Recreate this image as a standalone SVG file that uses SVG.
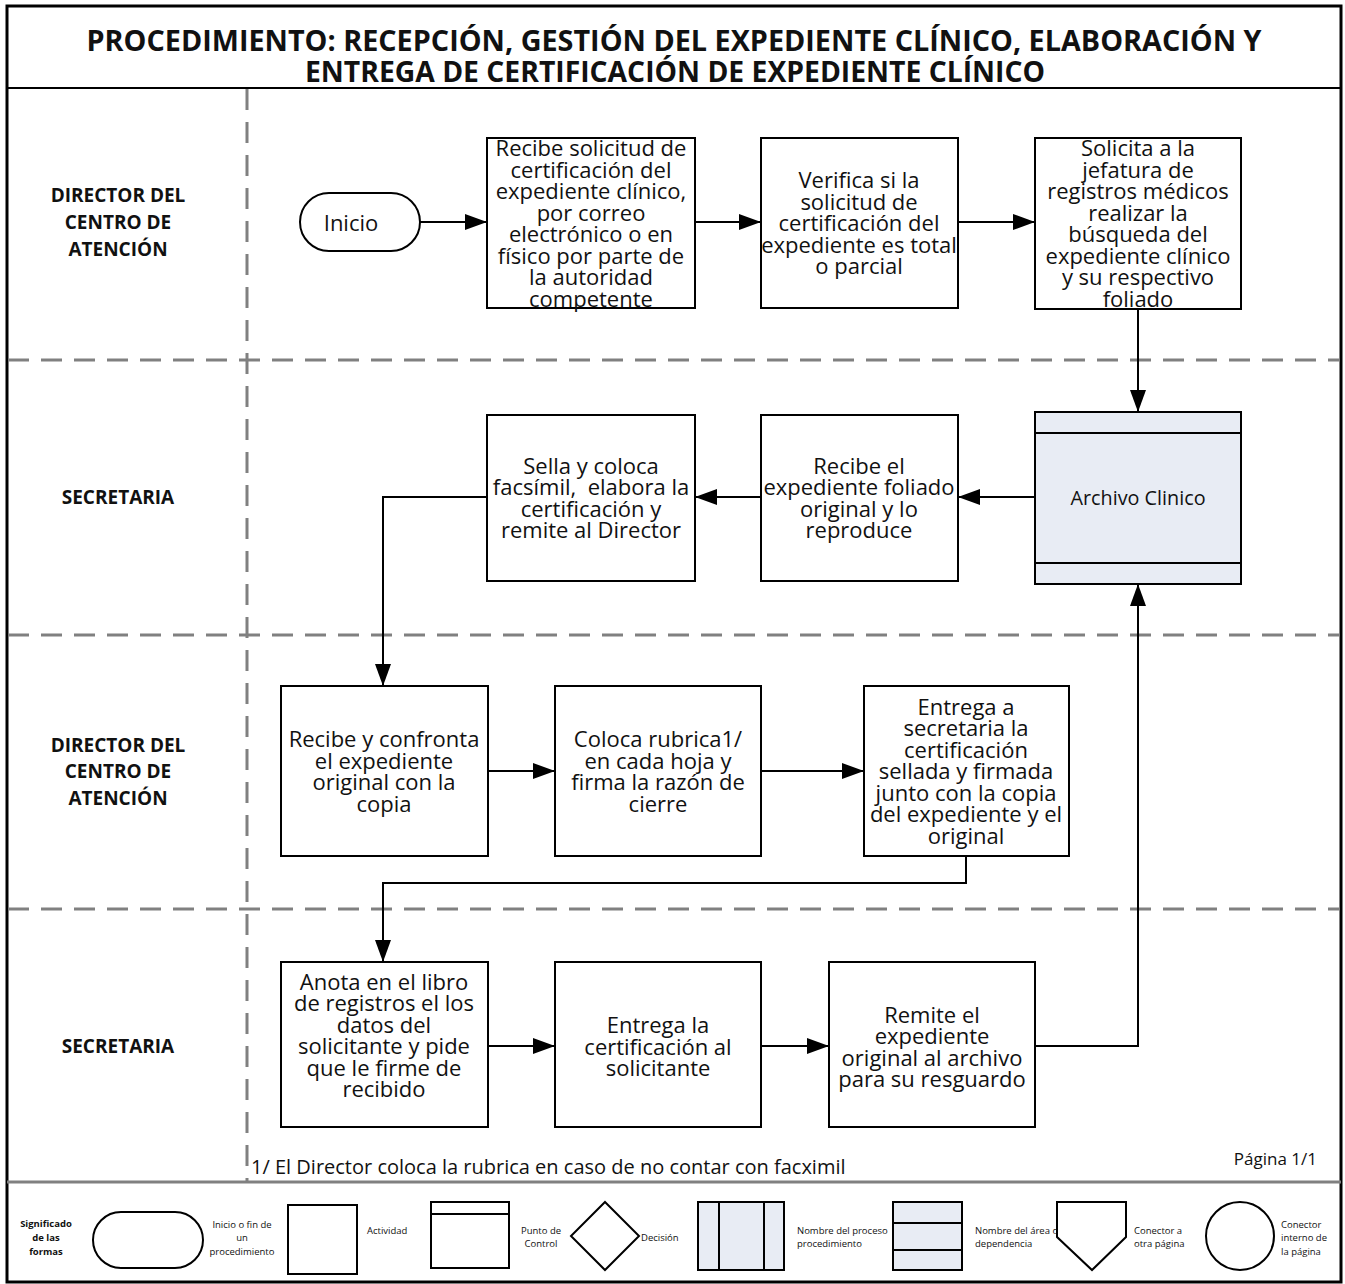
<svg xmlns="http://www.w3.org/2000/svg" width="1345" height="1284" viewBox="0 0 1345 1284">
<defs>
<style>
.t{font-family:"Open Sans","Noto Sans","Liberation Sans",sans-serif;font-size:22px;fill:#111;text-anchor:middle;dominant-baseline:central}
.lane{font-family:"Open Sans","Noto Sans","Liberation Sans",sans-serif;font-size:19px;font-weight:bold;fill:#111;text-anchor:middle;dominant-baseline:central}
.title{font-family:"Open Sans","Noto Sans","Liberation Sans",sans-serif;font-size:28px;font-weight:bold;fill:#111;text-anchor:middle}
.lg{font-family:"Open Sans","Noto Sans","Liberation Sans",sans-serif;font-size:9.5px;fill:#111;dominant-baseline:central}
.box{fill:#fff;stroke:#000;stroke-width:2}
.blue{fill:#e8ecf4;stroke:#000;stroke-width:2}
.dash{stroke:#808080;stroke-width:3;stroke-dasharray:21 12;fill:none}
.con{fill:none;stroke:#000;stroke-width:2;marker-end:url(#ah)}
.lgs{fill:#fff;stroke:#000;stroke-width:2}
</style>
<marker id="ah" viewBox="0 0 22 16" refX="22" refY="8" markerWidth="22" markerHeight="16" markerUnits="userSpaceOnUse" orient="auto">
<path d="M0,0 L22,8 L0,16 z" fill="#000"/>
</marker>
</defs>
<rect x="0" y="0" width="1345" height="1284" fill="#fff"/>

<g id="frame">
<rect x="7" y="6" width="1334" height="1276" fill="none" stroke="#000" stroke-width="3"/>
<line x1="7" y1="88" x2="1341" y2="88" stroke="#000" stroke-width="2"/>
<line x1="7" y1="1182" x2="1341" y2="1182" stroke="#808080" stroke-width="3"/>
<line x1="247" y1="89" x2="247" y2="1181" class="dash"/>
<line x1="8" y1="360" x2="1340" y2="360" class="dash"/>
<line x1="8" y1="635" x2="1340" y2="635" class="dash"/>
<line x1="8" y1="909" x2="1340" y2="909" class="dash"/>
<text class="title" x="674" y="51" textLength="1175" lengthAdjust="spacingAndGlyphs">PROCEDIMIENTO: RECEPCIÓN, GESTIÓN DEL EXPEDIENTE CLÍNICO, ELABORACIÓN Y</text>
<text class="title" x="675" y="82" textLength="740" lengthAdjust="spacingAndGlyphs">ENTREGA DE CERTIFICACIÓN DE EXPEDIENTE CLÍNICO</text>
</g>

<g id="lanes">
<text class="lane" x="118" y="195">DIRECTOR DEL</text>
<text class="lane" x="118" y="222">CENTRO DE</text>
<text class="lane" x="118" y="249">ATENCIÓN</text>
<text class="lane" x="118" y="497">SECRETARIA</text>
<text class="lane" x="118" y="745">DIRECTOR DEL</text>
<text class="lane" x="118" y="771">CENTRO DE</text>
<text class="lane" x="118" y="798">ATENCIÓN</text>
<text class="lane" x="118" y="1046">SECRETARIA</text>
</g>

<g id="connectors">
<path class="con" d="M420,222 H487"/>
<path class="con" d="M695,222 H761"/>
<path class="con" d="M958,222 H1035"/>
<path class="con" d="M1138,309 V412"/>
<path class="con" d="M1035,497 H958"/>
<path class="con" d="M761,497 H695"/>
<path class="con" d="M487,497 H383 V686"/>
<path class="con" d="M488,771 H555"/>
<path class="con" d="M761,771 H864"/>
<path class="con" d="M966,856 V883 H383 V962"/>
<path class="con" d="M488,1046 H555"/>
<path class="con" d="M761,1046 H829"/>
<path class="con" d="M1035,1046 H1138 V584"/>
</g>

<g id="inicio">
<rect class="box" x="300" y="193" width="120" height="58" rx="29" ry="29"/>
<text class="t" x="351" y="222">Inicio</text>
</g>

<g id="n1">
<rect class="box" x="487" y="138" width="208" height="170"/>
<text class="t" x="591" y="147">Recibe solicitud de</text>
<text class="t" x="591" y="169">certificación del</text>
<text class="t" x="591" y="190">expediente clínico,</text>
<text class="t" x="591" y="212">por correo</text>
<text class="t" x="591" y="233">electrónico o en</text>
<text class="t" x="591" y="255">físico por parte de</text>
<text class="t" x="591" y="276">la autoridad</text>
<text class="t" x="591" y="298">competente</text>
</g>

<g id="n2">
<rect class="box" x="761" y="138" width="197" height="170"/>
<text class="t" x="859" y="179">Verifica si la</text>
<text class="t" x="859" y="201">solicitud de</text>
<text class="t" x="859" y="222">certificación del</text>
<text class="t" x="859" y="244">expediente es total</text>
<text class="t" x="859" y="265">o parcial</text>
</g>

<g id="n3">
<rect class="box" x="1035" y="138" width="206" height="171"/>
<text class="t" x="1138" y="147">Solicita a la</text>
<text class="t" x="1138" y="169">jefatura de</text>
<text class="t" x="1138" y="190">registros médicos</text>
<text class="t" x="1138" y="212">realizar la</text>
<text class="t" x="1138" y="233">búsqueda del</text>
<text class="t" x="1138" y="255">expediente clínico</text>
<text class="t" x="1138" y="276">y su respectivo</text>
<text class="t" x="1138" y="298">foliado</text>
</g>

<g id="archivo">
<rect class="blue" x="1035" y="412" width="206" height="172"/>
<line x1="1035" y1="433" x2="1241" y2="433" stroke="#000" stroke-width="2"/>
<line x1="1035" y1="563" x2="1241" y2="563" stroke="#000" stroke-width="2"/>
<text class="t" x="1138" y="497" style="font-size:19.8px">Archivo Clinico</text>
</g>

<g id="n4">
<rect class="box" x="761" y="415" width="197" height="166"/>
<text class="t" x="859" y="465">Recibe el</text>
<text class="t" x="859" y="486">expediente foliado</text>
<text class="t" x="859" y="508">original y lo</text>
<text class="t" x="859" y="529">reproduce</text>
</g>

<g id="n5">
<rect class="box" x="487" y="415" width="208" height="166"/>
<text class="t" x="591" y="465">Sella y coloca</text>
<text class="t" x="591" y="486" xml:space="preserve">facsímil,  elabora la</text>
<text class="t" x="591" y="508">certificación y</text>
<text class="t" x="591" y="529">remite al Director</text>
</g>

<g id="n6">
<rect class="box" x="281" y="686" width="207" height="170"/>
<text class="t" x="384" y="738">Recibe y confronta</text>
<text class="t" x="384" y="760">el expediente</text>
<text class="t" x="384" y="781">original con la</text>
<text class="t" x="384" y="803">copia</text>
</g>

<g id="n7">
<rect class="box" x="555" y="686" width="206" height="170"/>
<text class="t" x="658" y="738">Coloca rubrica1/</text>
<text class="t" x="658" y="760">en cada hoja y</text>
<text class="t" x="658" y="781">firma la razón de</text>
<text class="t" x="658" y="803">cierre</text>
</g>

<g id="n8">
<rect class="box" x="864" y="686" width="205" height="170"/>
<text class="t" x="966" y="706">Entrega a</text>
<text class="t" x="966" y="727">secretaria la</text>
<text class="t" x="966" y="749">certificación</text>
<text class="t" x="966" y="770">sellada y firmada</text>
<text class="t" x="966" y="792">junto con la copia</text>
<text class="t" x="966" y="813">del expediente y el</text>
<text class="t" x="966" y="835">original</text>
</g>

<g id="n9">
<rect class="box" x="281" y="962" width="207" height="165"/>
<text class="t" x="384" y="981">Anota en el libro</text>
<text class="t" x="384" y="1002">de registros el los</text>
<text class="t" x="384" y="1024">datos del</text>
<text class="t" x="384" y="1045">solicitante y pide</text>
<text class="t" x="384" y="1067">que le firme de</text>
<text class="t" x="384" y="1088">recibido</text>
</g>

<g id="n10">
<rect class="box" x="555" y="962" width="206" height="165"/>
<text class="t" x="658" y="1024">Entrega la</text>
<text class="t" x="658" y="1046">certificación al</text>
<text class="t" x="658" y="1067">solicitante</text>
</g>

<g id="n11">
<rect class="box" x="829" y="962" width="206" height="165"/>
<text class="t" x="932" y="1014">Remite el</text>
<text class="t" x="932" y="1035">expediente</text>
<text class="t" x="932" y="1057">original al archivo</text>
<text class="t" x="932" y="1078">para su resguardo</text>
</g>

<g id="notes">
<text x="251" y="1174" style="font-family:'Open Sans','Noto Sans',sans-serif;font-size:20px;fill:#111">1/ El Director coloca la rubrica en caso de no contar con facximil</text>
<text x="1317" y="1165" style="font-family:'Open Sans','Noto Sans',sans-serif;font-size:17px;fill:#111;text-anchor:end">Página 1/1</text>
</g>

<g id="legend">
<text class="lg" x="46" y="1223" style="font-weight:bold;text-anchor:middle">Significado</text>
<text class="lg" x="46" y="1237" style="font-weight:bold;text-anchor:middle">de las</text>
<text class="lg" x="46" y="1251" style="font-weight:bold;text-anchor:middle">formas</text>
<rect class="lgs" x="93" y="1212" width="110" height="56" rx="28" ry="28"/>
<text class="lg" x="242" y="1224" style="text-anchor:middle">Inicio o fin de</text>
<text class="lg" x="242" y="1237" style="text-anchor:middle">un</text>
<text class="lg" x="242" y="1251" style="text-anchor:middle">procedimiento</text>
<rect class="lgs" x="288" y="1205" width="69" height="69"/>
<text class="lg" x="367" y="1230">Actividad</text>
<rect class="lgs" x="431" y="1202" width="78" height="66"/>
<line x1="431" y1="1214" x2="509" y2="1214" stroke="#000" stroke-width="2"/>
<text class="lg" x="541" y="1230" style="text-anchor:middle">Punto de</text>
<text class="lg" x="541" y="1243" style="text-anchor:middle">Control</text>
<path class="lgs" d="M605,1202 L639,1236 L605,1270 L571,1236 Z"/>
<text class="lg" x="641" y="1237">Decisión</text>
<rect class="blue" x="698" y="1202" width="86" height="68"/>
<line x1="719" y1="1202" x2="719" y2="1270" stroke="#000" stroke-width="2"/>
<line x1="764" y1="1202" x2="764" y2="1270" stroke="#000" stroke-width="2"/>
<text class="lg" x="797" y="1230">Nombre del proceso</text>
<text class="lg" x="797" y="1243">procedimiento</text>
<rect class="blue" x="893" y="1202" width="69" height="68"/>
<line x1="893" y1="1223" x2="962" y2="1223" stroke="#000" stroke-width="2"/>
<line x1="893" y1="1250" x2="962" y2="1250" stroke="#000" stroke-width="2"/>
<text class="lg" x="975" y="1230">Nombre del área o</text>
<text class="lg" x="975" y="1243">dependencia</text>
<path class="lgs" d="M1057,1202 H1126 V1237 L1092,1270 L1057,1237 Z"/>
<text class="lg" x="1134" y="1230">Conector a</text>
<text class="lg" x="1134" y="1243">otra página</text>
<circle class="lgs" cx="1240" cy="1236" r="34"/>
<text class="lg" x="1281" y="1224">Conector</text>
<text class="lg" x="1281" y="1237">interno de</text>
<text class="lg" x="1281" y="1251">la página</text>
</g>
</svg>
